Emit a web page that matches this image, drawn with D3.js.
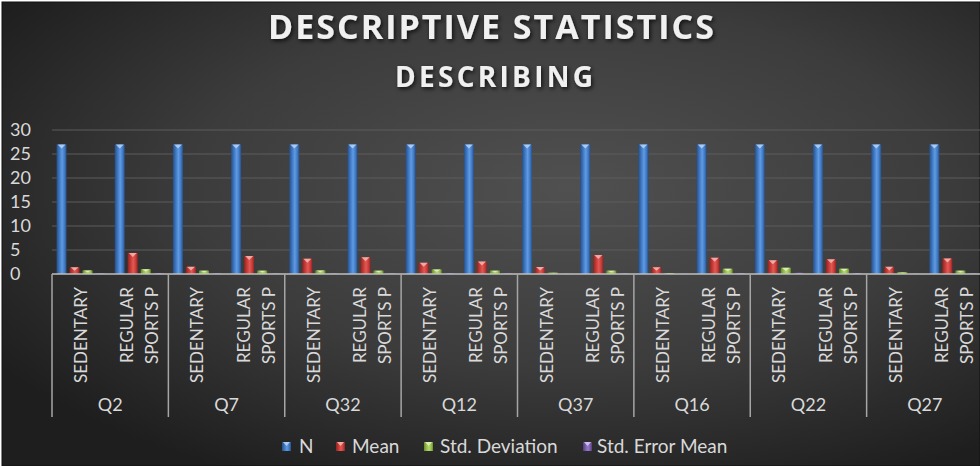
<!DOCTYPE html>
<html>
<head>
<meta charset="utf-8">
<script src="https://cdn.jsdelivr.net/npm/d3@7"></script>
<style>
  html, body { margin: 0; padding: 0; background: #ffffff; }
  svg { display: block; }
  text { font-family: Lato, "Open Sans", sans-serif; }
  text.title { font-family: "Open Sans", Lato, sans-serif; }
</style>
</head>
<body>
<svg id="chart" width="980" height="466"></svg>
<script>
// Questions (outer axis level) and respondent groups (inner axis level)
const questions = ["Q2", "Q7", "Q32", "Q12", "Q37", "Q16", "Q22", "Q27"];
const groups = ["SEDENTARY", "REGULAR SPORTS P"];
const groupLines = { "SEDENTARY": ["SEDENTARY"], "REGULAR SPORTS P": ["REGULAR", "SPORTS P"] };

// One value per question/group pair, in the order Q2-SED, Q2-REG, Q7-SED, ...
const nValues    = [27, 27, 27, 27, 27, 27, 27, 27, 27, 27, 27, 27, 27, 27, 27, 27];
const meanValues = [1.4, 4.4, 1.5, 3.75, 3.2, 3.5, 2.35, 2.6, 1.45, 3.95, 1.4, 3.4, 2.85, 3.05, 1.5, 3.25];
const sdValues   = [0.75, 1.0, 0.7, 0.7, 0.75, 0.7, 0.95, 0.7, 0.3, 0.7, 0.2, 1.1, 1.3, 1.1, 0.4, 0.7];
const semValues  = [0.14, 0.19, 0.13, 0.13, 0.14, 0.13, 0.18, 0.13, 0.06, 0.13, 0.04, 0.21, 0.25, 0.21, 0.08, 0.13];

const seriesNames = ["N", "Mean", "Std. Deviation", "Std. Error Mean"];
const yTicks = [0, 5, 10, 15, 20, 25, 30];

const seriesData = [nValues, meanValues, sdValues, semValues];
const palette = [
  { dark: "#284f86", mid: "#4079c4", light: "#5f9be2", cap: "#b9d4f5" },
  { dark: "#8f2522", mid: "#c93c38", light: "#e05a55", cap: "#f4b8b5" },
  { dark: "#6a8a2a", mid: "#96c04c", light: "#b3d872", cap: "#e4f2c6" },
  { dark: "#513b77", mid: "#7b5eae", light: "#977bcb", cap: "#d8ccef" }
];

const width = 980, height = 466;
const svg = d3.select("#chart");
const defs = svg.append("defs");

// Background: soft radial grey
const bg = defs.append("radialGradient").attr("id", "bg")
  .attr("cx", "58%").attr("cy", "40%").attr("r", "70%");
bg.append("stop").attr("offset", "0%").attr("stop-color", "#505050");
bg.append("stop").attr("offset", "55%").attr("stop-color", "#3c3c3c");
bg.append("stop").attr("offset", "100%").attr("stop-color", "#1e1e1e");

svg.append("rect").attr("width", width).attr("height", height).attr("fill", "#ffffff");
svg.append("rect").attr("x", 2).attr("y", 2).attr("width", width - 2).attr("height", height - 2)
  .attr("fill", "url(#bg)").attr("stroke", "#111").attr("stroke-width", 1);

// Bar gradients (bevelled look)
palette.forEach((c, i) => {
  const g = defs.append("linearGradient").attr("id", "bar" + i)
    .attr("x1", "0%").attr("x2", "100%").attr("y1", "0%").attr("y2", "0%");
  g.append("stop").attr("offset", "0%").attr("stop-color", c.dark);
  g.append("stop").attr("offset", "30%").attr("stop-color", c.mid);
  g.append("stop").attr("offset", "55%").attr("stop-color", c.light);
  g.append("stop").attr("offset", "80%").attr("stop-color", c.mid);
  g.append("stop").attr("offset", "100%").attr("stop-color", c.dark);
});

// Drop shadow for the titles
const sh = defs.append("filter").attr("id", "shadow").attr("x", "-10%").attr("y", "-30%")
  .attr("width", "120%").attr("height", "160%");
sh.append("feDropShadow").attr("dx", 1.5).attr("dy", 2).attr("stdDeviation", 2)
  .attr("flood-color", "#000").attr("flood-opacity", 0.75);

// Titles
svg.append("text").attr("class", "title").attr("x", 491).attr("y", 39).attr("text-anchor", "middle")
  .attr("font-size", 34).attr("font-weight", 700).attr("fill", "#f0f0f0")
  .attr("textLength", 446).attr("lengthAdjust", "spacing")
  .attr("filter", "url(#shadow)").text("DESCRIPTIVE STATISTICS");
svg.append("text").attr("class", "title").attr("x", 494).attr("y", 87).attr("text-anchor", "middle")
  .attr("font-size", 28).attr("font-weight", 700).attr("fill", "#f0f0f0")
  .attr("textLength", 198).attr("lengthAdjust", "spacing")
  .attr("filter", "url(#shadow)").text("DESCRIBING");

// Scales
const plotLeft = 52, plotRight = 983;
const y = d3.scaleLinear().domain([0, 30]).range([274, 130]);
const xQ = d3.scaleBand().domain(questions).range([plotLeft, plotRight]).padding(0);
const xG = d3.scaleBand().domain(groups).range([0, xQ.bandwidth()]).padding(0);
const xS = d3.scaleBand().domain(seriesNames).range([0, xG.bandwidth()])
  .paddingInner(0.23).paddingOuter(0.35);

// Gridlines and y tick labels
const grid = svg.append("g");
yTicks.forEach(t => {
  if (t > 0) {
    grid.append("line").attr("x1", plotLeft).attr("x2", width)
      .attr("y1", y(t)).attr("y2", y(t))
      .attr("stroke", "#5c5c5c").attr("stroke-width", 1);
  }
  grid.append("text").attr("x", 10).attr("y", y(t)).attr("dy", "0.36em")
    .attr("font-size", 18).attr("fill", "#d9d9d9").text(t);
});

// Flatten into category rows
const rows = [];
questions.forEach((q, qi) => {
  groups.forEach((g, gi) => {
    rows.push({ q, g, idx: qi * groups.length + gi });
  });
});

// Bars
const bars = svg.append("g");
rows.forEach(r => {
  const x0 = xQ(r.q) + xG(r.g);
  seriesNames.forEach((s, si) => {
    const v = seriesData[si][r.idx];
    const bx = x0 + xS(s), bw = xS.bandwidth();
    const top = y(v), h = y(0) - top;
    bars.append("rect").attr("x", bx).attr("y", top).attr("width", bw).attr("height", h)
      .attr("fill", `url(#bar${si})`);
    if (h > 3) {
      const dip = Math.min(4, h * 0.5);
      bars.append("path")
        .attr("d", `M${bx + 1},${top} L${bx + bw - 1},${top} L${bx + bw / 2},${top + dip} Z`)
        .attr("fill", palette[si].cap).attr("opacity", 0.85);
    }
  });
});

// Category axis: baseline, group separators and labels
const axis = svg.append("g");
axis.append("line").attr("x1", plotLeft).attr("x2", width).attr("y1", y(0)).attr("y2", y(0))
  .attr("stroke", "#bfbfbf").attr("stroke-width", 1.5);
questions.forEach(q => {
  const x = xQ(q);
  axis.append("line").attr("x1", x).attr("x2", x).attr("y1", y(0)).attr("y2", 417)
    .attr("stroke", "#a6a6a6").attr("stroke-width", 1.5);
  axis.append("text").attr("x", x + xQ.bandwidth() / 2).attr("y", 411)
    .attr("text-anchor", "middle").attr("font-size", 18).attr("fill", "#d9d9d9").text(q);
});

rows.forEach(r => {
  const cx = xQ(r.q) + xG(r.g) + xG.bandwidth() / 2;
  const lines = groupLines[r.g];
  const offsets = lines.length === 1 ? [0] : [-12, 13];
  lines.forEach((ln, li) => {
    const lx = cx + offsets[li] + 6;
    axis.append("text")
      .attr("transform", `translate(${lx},287) rotate(-90)`)
      .attr("text-anchor", "end").attr("font-size", 17).attr("fill", "#d9d9d9")
      .text(ln);
  });
});

// Legend
const legendItems = [
  { name: "N", sx: 282, tx: 299 },
  { name: "Mean", sx: 336, tx: 352 },
  { name: "Std. Deviation", sx: 424, tx: 440 },
  { name: "Std. Error Mean", sx: 583, tx: 597 }
];
const legend = svg.append("g");
legendItems.forEach((it, i) => {
  legend.append("rect").attr("x", it.sx).attr("y", 442).attr("width", 9).attr("height", 9)
    .attr("fill", `url(#bar${i})`);
  legend.append("path").attr("d", `M${it.sx + 1},442 L${it.sx + 8},442 L${it.sx + 4.5},446 Z`)
    .attr("fill", palette[i].cap).attr("opacity", 0.85);
  legend.append("text").attr("x", it.tx).attr("y", 453).attr("font-size", 19)
    .attr("fill", "#d9d9d9").text(it.name);
});
</script>
</body>
</html>
